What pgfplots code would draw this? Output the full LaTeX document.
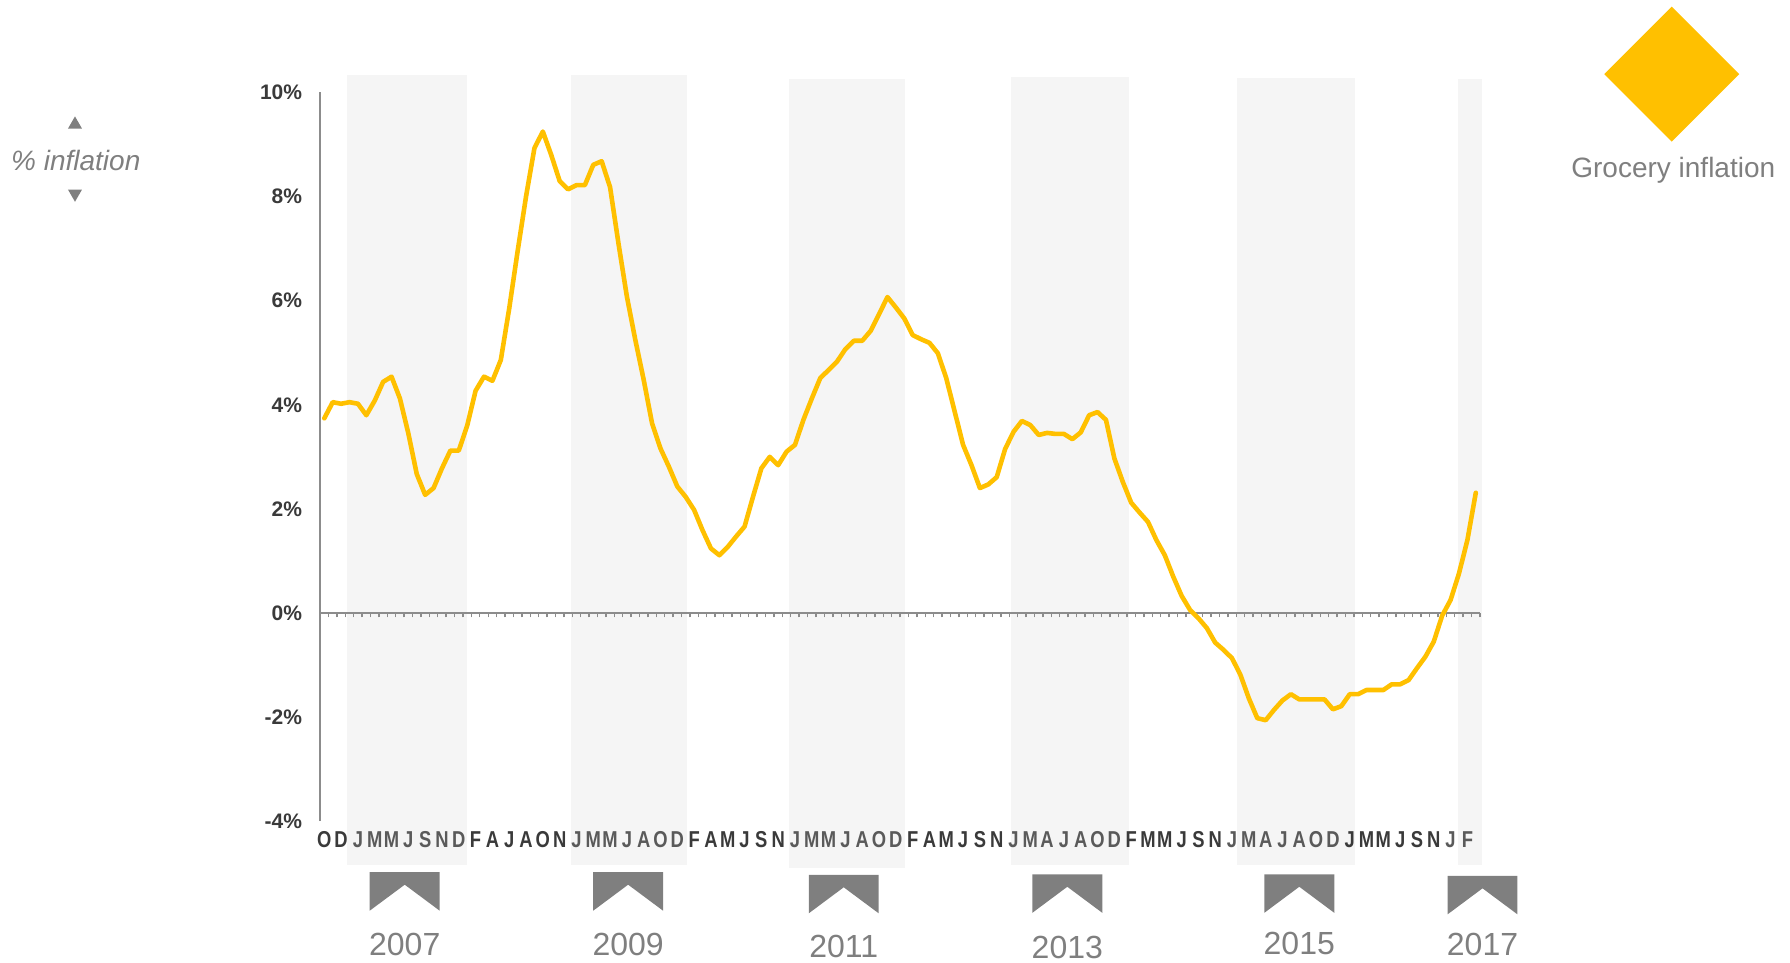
\documentclass[border=0pt]{standalone}
\usepackage{pgfplots}
\usepackage{pgfplotstable}
\pgfplotsset{compat=1.18}
\usepackage{fontspec}
\setmainfont{Liberation Sans}
\newfontfamily\tickfont[FakeStretch=0.8]{Liberation Sans}
\definecolor{gold}{HTML}{FFC000}
\definecolor{band}{HTML}{F5F5F5}
\definecolor{tickdark}{HTML}{3A3A3A}
\definecolor{ticklight}{HTML}{5A5A5A}
\definecolor{markgray}{HTML}{7F7F7F}
\definecolor{axgray}{HTML}{8C8C8C}

\pgfplotstableread{
i v
0 3.74
1 4.05
2 4.02
3 4.05
4 4.02
5 3.80
6 4.08
7 4.44
8 4.54
9 4.12
10 3.45
11 2.67
12 2.27
13 2.40
14 2.78
15 3.12
16 3.12
17 3.60
18 4.27
19 4.54
20 4.46
21 4.86
22 5.85
23 6.95
24 8.00
25 8.93
26 9.25
27 8.80
28 8.30
29 8.14
30 8.22
31 8.22
32 8.61
33 8.68
34 8.18
35 7.10
36 6.08
37 5.25
38 4.48
39 3.64
40 3.16
41 2.81
42 2.43
43 2.23
44 1.98
45 1.59
46 1.24
47 1.11
48 1.27
49 1.47
50 1.66
51 2.23
52 2.78
53 3.00
54 2.84
55 3.10
56 3.23
57 3.71
58 4.12
59 4.51
60 4.67
61 4.83
62 5.07
63 5.23
64 5.23
65 5.42
66 5.74
67 6.07
68 5.87
69 5.66
70 5.34
71 5.26
72 5.19
73 4.99
74 4.51
75 3.87
76 3.23
77 2.84
78 2.40
79 2.47
80 2.61
81 3.15
82 3.48
83 3.69
84 3.61
85 3.42
86 3.46
87 3.44
88 3.44
89 3.34
90 3.47
91 3.80
92 3.86
93 3.71
94 2.97
95 2.52
96 2.12
97 1.93
98 1.75
99 1.40
100 1.11
101 0.70
102 0.33
103 0.06
104 -0.10
105 -0.29
106 -0.57
107 -0.71
108 -0.87
109 -1.19
110 -1.64
111 -2.02
112 -2.06
113 -1.86
114 -1.68
115 -1.56
116 -1.66
117 -1.66
118 -1.66
119 -1.66
120 -1.85
121 -1.79
122 -1.56
123 -1.56
124 -1.48
125 -1.48
126 -1.48
127 -1.37
128 -1.37
129 -1.29
130 -1.06
131 -0.84
132 -0.55
133 -0.05
134 0.25
135 0.76
136 1.40
137 2.31
}\grocery

\newcommand{\dk}[1]{\textcolor{tickdark}{#1}}
\newcommand{\lt}[1]{\textcolor{ticklight}{#1}}

\begin{document}
\begin{tikzpicture}
\useasboundingbox (-160.05pt,-70.9pt) rectangle (734.95pt,410.6pt);
\pgfplotsset{base/.style={scale only axis, width=579.95pt, height=364.35pt,
  xmin=-0.5, xmax=137.5, ymin=-4, ymax=10, at={(0pt,0pt)}, anchor=south west}}
% background bands and year markers
\begin{axis}[base, hide axis, clip=false]
\fill[band] (axis cs:2.66,-4.85) rectangle (axis cs:16.96,10.33);
\fill[band] (axis cs:29.4,-4.85) rectangle (axis cs:43.1,10.33);
\fill[band] (axis cs:55.3,-4.9) rectangle (axis cs:69.1,10.26);
\fill[band] (axis cs:81.7,-4.85) rectangle (axis cs:95.7,10.3);
\fill[band] (axis cs:108.6,-4.85) rectangle (axis cs:122.6,10.28);
\fill[band] (axis cs:134.9,-4.85) rectangle (axis cs:137.7,10.26);
\fill[markgray] (axis cs:5.4,-4.98) -- (axis cs:13.73,-4.98) -- (axis cs:13.73,-5.72) -- (axis cs:9.57,-5.22) -- (axis cs:5.4,-5.72) -- cycle;
\fill[markgray] (axis cs:31.99,-4.98) -- (axis cs:40.31,-4.98) -- (axis cs:40.31,-5.72) -- (axis cs:36.15,-5.22) -- (axis cs:31.99,-5.72) -- cycle;
\fill[markgray] (axis cs:57.64,-5.03) -- (axis cs:65.96,-5.03) -- (axis cs:65.96,-5.77) -- (axis cs:61.8,-5.27) -- (axis cs:57.64,-5.77) -- cycle;
\fill[markgray] (axis cs:84.24,-5.02) -- (axis cs:92.56,-5.02) -- (axis cs:92.56,-5.76) -- (axis cs:88.4,-5.26) -- (axis cs:84.24,-5.76) -- cycle;
\fill[markgray] (axis cs:111.84,-5.02) -- (axis cs:120.16,-5.02) -- (axis cs:120.16,-5.76) -- (axis cs:116,-5.26) -- (axis cs:111.84,-5.76) -- cycle;
\fill[markgray] (axis cs:133.64,-5.05) -- (axis cs:141.96,-5.05) -- (axis cs:141.96,-5.79) -- (axis cs:137.8,-5.29) -- (axis cs:133.64,-5.79) -- cycle;
\node[font=\fontsize{16}{18}\selectfont, text=markgray] at (axis cs:9.57,-6.37) {2007};
\node[font=\fontsize{16}{18}\selectfont, text=markgray] at (axis cs:36.15,-6.37) {2009};
\node[font=\fontsize{16}{18}\selectfont, text=markgray] at (axis cs:61.8,-6.4) {2011};
\node[font=\fontsize{16}{18}\selectfont, text=markgray] at (axis cs:88.4,-6.42) {2013};
\node[font=\fontsize{16}{18}\selectfont, text=markgray] at (axis cs:116,-6.35) {2015};
\node[font=\fontsize{16}{18}\selectfont, text=markgray] at (axis cs:137.8,-6.37) {2017};
\end{axis}
% zero line with period ticks
\begin{axis}[scale only axis, width=579.95pt, height=260.25pt, at={(0pt,104.1pt)}, anchor=south west,
  xmin=-0.5, xmax=137.5, ymin=0, ymax=10,
  axis x line*=bottom, axis y line=none,
  xtick={-0.5,0.5,...,137.5}, xticklabels={},
  tick align=outside, major tick length=2.2pt,
  x axis line style={draw=axgray, line width=1pt},
  xtick style={draw=axgray, line width=0.7pt}]
\end{axis}
% main axis
\begin{axis}[base, clip=false,
  axis y line*=left, axis x line*=bottom,
  x axis line style={draw=none},
  y axis line style={draw=axgray, line width=1pt},
  major tick length=0pt, tick style={draw=none},
  ytick={-4,-2,...,10},
  yticklabels={-4\%,-2\%,0\%,2\%,4\%,6\%,8\%,10\%},
  yticklabel style={font=\bfseries\fontsize{10.5}{12}\selectfont, text=tickdark, anchor=east, xshift=-5.5pt},
  xtick={0,2,...,136},
  xticklabels={\dk{O},\dk{D},
   \lt{J},\lt{M},\lt{M},\lt{J},\lt{S},\lt{N},\lt{D},
   \dk{F},\dk{A},\dk{J},\dk{A},\dk{O},\dk{N},
   \lt{J},\lt{M},\lt{M},\lt{J},\lt{A},\lt{O},\lt{D},
   \dk{F},\dk{A},\dk{M},\dk{J},\dk{S},\dk{N},
   \lt{J},\lt{M},\lt{M},\lt{J},\lt{A},\lt{O},\lt{D},
   \dk{F},\dk{A},\dk{M},\dk{J},\dk{S},\dk{N},
   \lt{J},\lt{M},\lt{A},\lt{J},\lt{A},\lt{O},\lt{D},
   \dk{F},\dk{M},\dk{M},\dk{J},\dk{S},\dk{N},
   \lt{J},\lt{M},\lt{A},\lt{J},\lt{A},\lt{O},\lt{D},
   \dk{J},\dk{M},\dk{M},\dk{J},\dk{S},\dk{N},
   \lt{J},\lt{F}},
  xticklabel style={font=\tickfont\bfseries\fontsize{11.5}{13}\selectfont, anchor=north, yshift=-1.5pt}]
\addplot[gold, line width=2.3pt, line join=round, line cap=round] table[x=i, y=v] {\grocery};
\end{axis}
% legend and axis title
\fill[gold] (675.85pt,407.25pt) -- (709.6pt,373.5pt) -- (675.85pt,339.75pt) -- (642.1pt,373.5pt) -- cycle;
\node[anchor=base, font=\fontsize{14}{16}\selectfont, text=markgray] at (676.6pt,321.75pt) {Grocery inflation};
\node[anchor=base, font=\itshape\fontsize{14}{16}\selectfont, text=markgray] at (-122.15pt,325.1pt) {\% inflation};
\fill[markgray] (-122.55pt,352.4pt) -- (-119.05pt,346.3pt) -- (-126.05pt,346.3pt) -- cycle;
\fill[markgray] (-122.55pt,309.7pt) -- (-119.05pt,315.8pt) -- (-126.05pt,315.8pt) -- cycle;
\end{tikzpicture}
\end{document}
